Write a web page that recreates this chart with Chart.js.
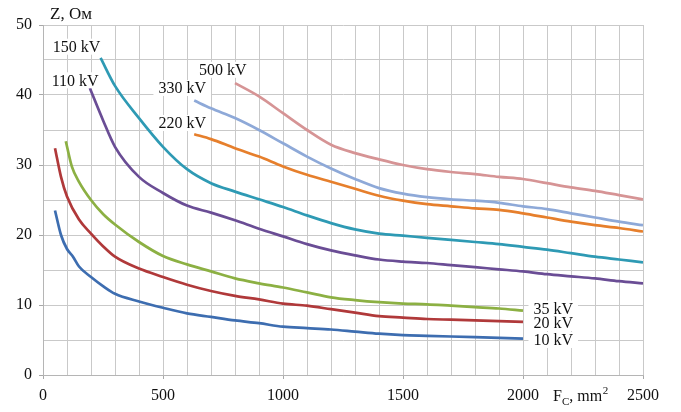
<!DOCTYPE html>
<html>
<head>
<meta charset="utf-8">
<script src="https://cdn.jsdelivr.net/npm/chart.js@4.4.1/dist/chart.umd.min.js"></script>
<style>
  html, body { margin: 0; padding: 0; background: #fff; }
  canvas { display: block; }
</style>
</head>
<body>
<canvas id="zChart" width="681" height="412"></canvas>
<script>
// сечения (mm2) и сопротивления (Ом) для каждого класса напряжения
const fc10 = [50, 75, 100, 125, 150, 200, 250, 300, 400, 500, 600, 700, 800, 900, 1000, 1100, 1200, 1300, 1400, 1500, 1600, 1700, 1800, 1900, 2000];
const z10 = [23.5, 20, 18, 16.9, 15.5, 14, 12.7, 11.6, 10.5, 9.6, 8.8, 8.3, 7.8, 7.4, 6.9, 6.7, 6.5, 6.2, 5.9, 5.7, 5.6, 5.5, 5.4, 5.3, 5.2];

const fc20 = [50, 75, 100, 150, 200, 250, 300, 400, 500, 600, 700, 800, 900, 1000, 1100, 1200, 1300, 1400, 1500, 1600, 1700, 1800, 1900, 2000];
const z20 = [32.4, 28.3, 25.5, 22.2, 20.2, 18.4, 16.9, 15.2, 14, 12.9, 12, 11.3, 10.8, 10.2, 9.9, 9.4, 8.9, 8.4, 8.2, 8.0, 7.9, 7.8, 7.7, 7.6];

const fc35 = [95, 120, 150, 200, 250, 300, 400, 500, 600, 700, 800, 900, 1000, 1100, 1200, 1300, 1400, 1500, 1600, 1700, 1800, 1900, 2000];
const z35 = [33.4, 29.8, 27.6, 25, 23, 21.5, 19, 17, 15.8, 14.8, 13.8, 13.1, 12.5, 11.8, 11.1, 10.7, 10.4, 10.2, 10.1, 9.9, 9.7, 9.5, 9.2];

const fc110 = [195, 250, 300, 400, 500, 600, 700, 800, 900, 1000, 1100, 1200, 1300, 1400, 1500, 1600, 1700, 1800, 1900, 2000, 2100, 2200, 2300, 2400, 2500];
const z110 = [41, 36.4, 32.6, 28.3, 26, 24.2, 23.2, 22.1, 20.9, 19.8, 18.7, 17.8, 17.1, 16.5, 16.2, 16, 15.7, 15.4, 15.1, 14.8, 14.4, 14.1, 13.8, 13.4, 13.1];

const fc150 = [240, 300, 400, 500, 600, 700, 800, 900, 1000, 1100, 1200, 1300, 1400, 1500, 1600, 1700, 1800, 1900, 2000, 2100, 2200, 2300, 2400, 2500];
const z150 = [45.3, 41.3, 36.7, 32.6, 29.4, 27.4, 26.2, 25.1, 24, 22.8, 21.7, 20.8, 20.2, 19.9, 19.6, 19.3, 19, 18.7, 18.3, 17.9, 17.4, 16.9, 16.5, 16.1];

const fc220 = [630, 700, 800, 900, 1000, 1100, 1200, 1300, 1400, 1500, 1600, 1700, 1800, 1900, 2000, 2100, 2200, 2300, 2400, 2500];
const z220 = [34.4, 33.7, 32.4, 31.2, 29.8, 28.6, 27.6, 26.6, 25.6, 24.9, 24.4, 24.1, 23.8, 23.6, 23.1, 22.5, 21.9, 21.4, 21.0, 20.5];

const fc330 = [630, 700, 800, 900, 1000, 1100, 1200, 1300, 1400, 1500, 1600, 1700, 1800, 1900, 2000, 2100, 2200, 2300, 2400, 2500];
const z330 = [39.2, 38.1, 36.7, 35, 33.1, 31.2, 29.5, 28, 26.7, 25.9, 25.4, 25.1, 24.9, 24.6, 24.1, 23.7, 23.1, 22.5, 21.9, 21.4];

const fc500 = [800, 900, 1000, 1100, 1200, 1300, 1400, 1500, 1600, 1700, 1800, 1900, 2000, 2100, 2200, 2300, 2400, 2500];
const z500 = [41.7, 39.8, 37.4, 35, 32.9, 31.7, 30.8, 30, 29.4, 29, 28.7, 28.3, 28, 27.4, 26.8, 26.3, 25.7, 25.1];

// подписи кривых: текст и место в координатах данных
const seriesNames = ['10 kV', '20 kV', '35 kV', '110 kV', '150 kV', '220 kV', '330 kV', '500 kV'];
const labelX = [2126, 2126, 2126, 134, 140, 580, 580, 749];
const labelY = [5.0, 7.4, 9.5, 42.1, 46.9, 36, 41, 43.6];

const yTitle = 'Z, Ом';

document.addEventListener('DOMContentLoaded', function () {
    const serif = '"Liberation Serif", "DejaVu Serif", serif';
    const colors = ['#3d6db0', '#b0393a', '#8cb043', '#6a4d95', '#2e9ab4', '#e67f2c', '#8ea9d8', '#d69495'];
    const xs = [fc10, fc20, fc35, fc110, fc150, fc220, fc330, fc500];
    const ys = [z10, z20, z35, z110, z150, z220, z330, z500];

    function toPoints(fx, fy) {
        return fx.map((v, i) => ({ x: v, y: fy[i] }));
    }

    const datasets = seriesNames.map((name, i) => ({
        label: name,
        data: toPoints(xs[i], ys[i]),
        borderColor: colors[i],
        borderWidth: 2.7,
        pointRadius: 0,
        fill: false,
        cubicInterpolationMode: 'monotone'
    }));

    const labelsPlugin = {
        id: 'curveLabels',
        afterDraw(chart) {
            const ctx = chart.ctx;
            const sx = chart.scales.x, sy = chart.scales.y;
            ctx.save();
            ctx.font = '16px ' + serif;
            ctx.textAlign = 'center';
            ctx.textBaseline = 'middle';
            seriesNames.forEach((name, i) => {
                const px = sx.getPixelForValue(labelX[i]);
                const py = sy.getPixelForValue(labelY[i]);
                const w = ctx.measureText(name).width;
                ctx.fillStyle = '#fff';
                ctx.fillRect(px - w / 2 - 5, py - 8, w + 10, 16);
                ctx.fillStyle = '#111';
                ctx.fillText(name, px, py + 1);
            });

            // заголовок оси Y
            ctx.textAlign = 'left';
            ctx.textBaseline = 'alphabetic';
            ctx.font = '17px ' + serif;
            ctx.fillText(yTitle, 50, 19);

            // заголовок оси X: F_C, mm^2
            let x = 553;
            ctx.font = '16px ' + serif;
            ctx.fillText('F', x, 401);
            x += ctx.measureText('F').width;
            ctx.font = '11px ' + serif;
            ctx.fillText('C', x, 405);
            x += ctx.measureText('C').width;
            ctx.font = '16px ' + serif;
            ctx.fillText(', mm', x, 401);
            x += ctx.measureText(', mm').width;
            ctx.font = '11px ' + serif;
            ctx.fillText('2', x + 0.5, 394);
            ctx.restore();
        }
    };

    const tickFont = { family: serif, size: 16 };

    new Chart(document.getElementById('zChart').getContext('2d'), {
        type: 'line',
        data: { datasets: datasets },
        options: {
            responsive: false,
            animation: false,
            layout: { padding: { top: 25, right: 38, left: 0, bottom: 0 } },
            plugins: {
                legend: { display: false },
                tooltip: { enabled: false }
            },
            scales: {
                x: {
                    type: 'linear',
                    min: 0,
                    max: 2500,
                    afterFit: scale => { scale.height = 37; },
                    ticks: {
                        stepSize: 100,
                        autoSkip: false,
                        maxRotation: 0,
                        padding: 7,
                        color: '#111',
                        font: tickFont,
                        callback: v => (v % 500 === 0 ? v : '')
                    },
                    grid: {
                        color: '#c9c9c9',
                        lineWidth: 1,
                        tickLength: 4,
                        tickColor: c => (c.tick && c.tick.value % 500 === 0 ? '#a8a8a8' : 'rgba(0,0,0,0)')
                    },
                    border: { color: '#b5b5b5' }
                },
                y: {
                    min: 0,
                    max: 50,
                    afterFit: scale => { scale.width = 43; },
                    ticks: {
                        stepSize: 5,
                        padding: 7,
                        color: '#111',
                        font: tickFont,
                        callback: v => (v % 10 === 0 ? v : '')
                    },
                    grid: {
                        color: '#c9c9c9',
                        lineWidth: 1,
                        tickLength: 4,
                        tickColor: c => (c.tick && c.tick.value % 10 === 0 ? '#a8a8a8' : 'rgba(0,0,0,0)')
                    },
                    border: { color: '#b5b5b5' }
                }
            }
        },
        plugins: [labelsPlugin]
    });
});
</script>
</body>
</html>
